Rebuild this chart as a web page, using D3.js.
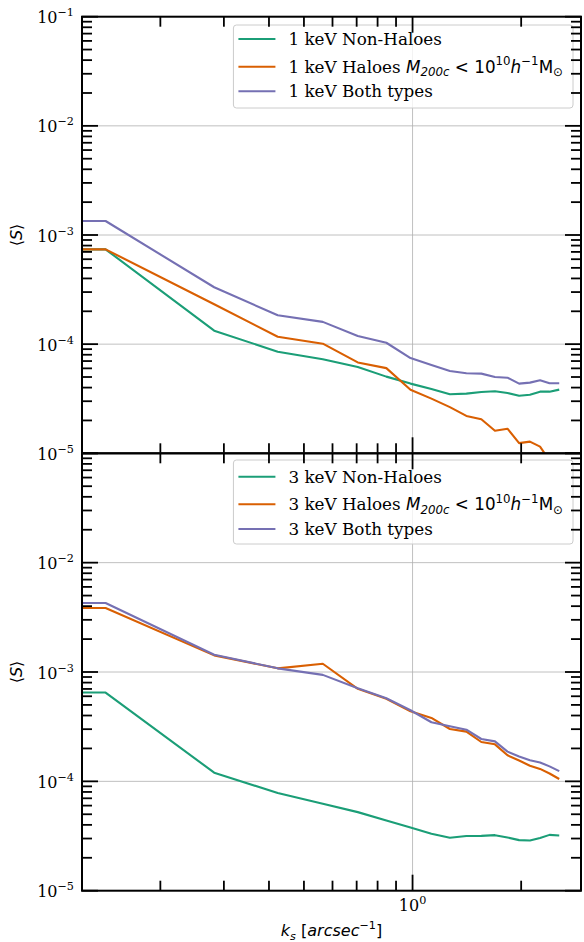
<!DOCTYPE html>
<html><head><meta charset="utf-8">
<script src="https://cdn.jsdelivr.net/npm/d3@7"></script>
<style>body{margin:0;background:#fff}</style>
</head><body><svg id="c" width="584" height="942" xmlns="http://www.w3.org/2000/svg"></svg>
<script>
// ---- data ----
const kValues = [0.1213, 0.141, 0.282, 0.423, 0.564, 0.705, 0.846, 0.987, 1.128, 1.269, 1.41, 1.551, 1.692, 1.833, 1.974, 2.115, 2.256, 2.397, 2.55];

const nonHaloes1 = [7.39e-4, 7.39e-4, 1.33e-4, 8.53e-5, 7.26e-5, 6.18e-5, 5.04e-5, 4.35e-5, 3.88e-5, 3.47e-5, 3.52e-5, 3.65e-5, 3.70e-5, 3.57e-5, 3.37e-5, 3.44e-5, 3.67e-5, 3.67e-5, 3.83e-5];
const haloes1    = [7.39e-4, 7.39e-4, 2.32e-4, 1.17e-4, 1.01e-4, 6.80e-5, 6.03e-5, 3.82e-5, 3.17e-5, 2.65e-5, 2.20e-5, 2.05e-5, 1.61e-5, 1.68e-5, 1.24e-5, 1.28e-5, 1.15e-5, 8.6e-6, 7.2e-6];
const both1      = [1.343e-3, 1.343e-3, 3.32e-4, 1.84e-4, 1.60e-4, 1.19e-4, 1.03e-4, 7.45e-5, 6.44e-5, 5.68e-5, 5.41e-5, 5.37e-5, 5.0e-5, 4.93e-5, 4.35e-5, 4.44e-5, 4.67e-5, 4.38e-5, 4.38e-5];

const nonHaloes3 = [6.49e-4, 6.49e-4, 1.20e-4, 7.82e-5, 6.24e-5, 5.23e-5, 4.39e-5, 3.79e-5, 3.32e-5, 3.05e-5, 3.16e-5, 3.17e-5, 3.22e-5, 3.07e-5, 2.90e-5, 2.88e-5, 3.03e-5, 3.24e-5, 3.20e-5];
const haloes3    = [3.85e-3, 3.85e-3, 1.42e-3, 1.08e-3, 1.19e-3, 7.02e-4, 5.68e-4, 4.37e-4, 3.80e-4, 3.01e-4, 2.85e-4, 2.29e-4, 2.18e-4, 1.73e-4, 1.55e-4, 1.39e-4, 1.30e-4, 1.18e-4, 1.05e-4];
const both3      = [4.27e-3, 4.27e-3, 1.44e-3, 1.08e-3, 9.41e-4, 7.11e-4, 5.75e-4, 4.47e-4, 3.47e-4, 3.19e-4, 2.97e-4, 2.44e-4, 2.32e-4, 1.87e-4, 1.69e-4, 1.56e-4, 1.49e-4, 1.37e-4, 1.24e-4];

const seriesLabels1 = ["1 keV Non-Haloes", "1 keV Haloes ", "1 keV Both types"];
const seriesLabels3 = ["3 keV Non-Haloes", "3 keV Haloes ", "3 keV Both types"];
const colors = ["#1b9e77", "#d95f02", "#7570b3"];
const xDomain = [0.1213, 2.93];
const yDomain = [1e-5, 1e-1];

// ---- layout ----
const svg = d3.select("#c");
const L = 82, R = 581;
const SERIF = "'DejaVu Serif', serif";
const SANS = "'DejaVu Sans', sans-serif";
const FS = 16, SFS = 11.2;
const LFS = 16.8, LSFS = 11.8;

const x = d3.scaleLog().domain(xDomain).range([L, R]);

const panels = [
  {top: 16.7, bottom: 453.3, series: [nonHaloes1, haloes1, both1], labels: seriesLabels1, legTop: 25, rows: [39, 66.7, 91.2], legBottom: 108, showTopLabel: true},
  {top: 453.3, bottom: 890.7, series: [nonHaloes3, haloes3, both3], labels: seriesLabels3, legTop: 460, rows: [476.7, 504.3, 529], legBottom: 544, showTopLabel: false}
];

function rich(textSel, parts) {
  let cur = 0;
  parts.forEach(p => {
    const shift = p.shift || 0;
    textSel.append("tspan")
      .attr("font-family", p.font || SANS)
      .attr("font-size", p.size || FS)
      .attr("font-style", p.italic ? "italic" : "normal")
      .attr("dy", shift - cur)
      .text(p.t);
    cur = shift;
  });
}

const defs = svg.append("defs");

panels.forEach((P, pi) => {
  const y = d3.scaleLog().domain(yDomain).range([P.bottom, P.top]);
  const g = svg.append("g");

  // grid
  const isMajor = v => Math.abs(Math.log10(v) - Math.round(Math.log10(v))) < 1e-9;
  const yMajor = y.ticks().filter(isMajor);
  const xTicks = x.ticks();
  const xMajor = xTicks.filter(isMajor);
  g.selectAll(".gy").data(yMajor).join("line")
    .attr("x1", L).attr("x2", R).attr("y1", d => y(d)).attr("y2", d => y(d))
    .attr("stroke", "#b0b0b0").attr("stroke-width", 0.8);
  g.selectAll(".gx").data(xMajor).join("line")
    .attr("x1", d => x(d)).attr("x2", d => x(d)).attr("y1", P.top).attr("y2", P.bottom)
    .attr("stroke", "#b0b0b0").attr("stroke-width", 0.8);

  // lines
  defs.append("clipPath").attr("id", "clip" + pi).append("rect")
    .attr("x", L).attr("y", P.top).attr("width", R - L).attr("height", P.bottom - P.top);
  const line = d3.line().x((d, i) => x(kValues[i])).y(d => y(d));
  const lg = g.append("g").attr("clip-path", `url(#clip${pi})`);
  P.series.forEach((s, si) => {
    lg.append("path").attr("d", line(s)).attr("fill", "none")
      .attr("stroke", colors[si]).attr("stroke-width", 2.1)
      .attr("stroke-linejoin", "round").attr("stroke-linecap", "butt");
  });

  // legend
  const leg = g.append("g");
  const box = leg.append("rect");
  const texts = [];
  P.labels.forEach((lab, i) => {
    const t = leg.append("text").attr("y", P.rows[i] + 6);
    if (i === 1) {
      rich(t, [
        {t: lab, font: SERIF, size: LFS},
        {t: "M", italic: true, size: LFS},
        {t: "200c", italic: true, size: LSFS, shift: 3.7},
        {t: " < 10", size: LFS},
        {t: "10", size: LSFS, shift: -7.4},
        {t: "h", italic: true, size: LFS},
        {t: "−1", size: LSFS, shift: -7.4},
        {t: "M", size: LFS},
        {t: "⊙", size: LSFS, shift: 3.7}
      ]);
    } else {
      rich(t, [{t: lab, font: SERIF, size: LFS}]);
    }
    texts.push(t);
  });
  const maxW = d3.max(texts, t => t.node().getComputedTextLength());
  const boxRight = 573;
  const textX = boxRight - 10 - maxW;
  texts.forEach(t => t.attr("x", textX));
  const hx1 = textX - 50, hx2 = textX - 13;
  P.labels.forEach((lab, i) => {
    leg.append("line").attr("x1", hx1).attr("x2", hx2)
      .attr("y1", P.rows[i]).attr("y2", P.rows[i])
      .attr("stroke", colors[i]).attr("stroke-width", 2.1);
  });
  box.attr("x", hx1 - 5).attr("y", P.legTop).attr("width", boxRight - (hx1 - 5)).attr("height", P.legBottom - P.legTop)
    .attr("rx", 3).attr("fill", "#fff").attr("fill-opacity", 0.8)
    .attr("stroke", "#cccccc").attr("stroke-width", 1);

  // ticks (inward, all four sides)
  const tg = g.append("g").attr("stroke", "#000").attr("stroke-width", 1.8);
  y.ticks().forEach(v => {
    const len = isMajor(v) ? 16 : 10;
    const yy = y(v);
    tg.append("line").attr("x1", L).attr("x2", L + len).attr("y1", yy).attr("y2", yy);
    tg.append("line").attr("x1", R).attr("x2", R - len).attr("y1", yy).attr("y2", yy);
  });
  xTicks.forEach(v => {
    const len = isMajor(v) ? 16 : 10;
    const xx = x(v);
    tg.append("line").attr("x1", xx).attr("x2", xx).attr("y1", P.bottom).attr("y2", P.bottom - len);
    tg.append("line").attr("x1", xx).attr("x2", xx).attr("y1", P.top).attr("y2", P.top + len);
  });

  // frame
  g.append("rect").attr("x", L).attr("y", P.top).attr("width", R - L).attr("height", P.bottom - P.top)
    .attr("fill", "none").attr("stroke", "#000").attr("stroke-width", 2);

  // y tick labels
  yMajor.forEach(v => {
    if (!P.showTopLabel && Math.abs(y(v) - P.top) < 1) return;
    const e = Math.round(Math.log10(v));
    const t = svg.append("text").attr("x", 74).attr("y", y(v) + 6.5)
      .attr("text-anchor", "end").attr("fill", "#000");
    rich(t, [{t: "10", font: SERIF}, {t: "−" + Math.abs(e), font: SERIF, size: SFS, shift: -7}]);
  });

  // y label
  const cy = (P.top + P.bottom) / 2;
  const yl = svg.append("text").attr("transform", `translate(22,${cy}) rotate(-90)`)
    .attr("text-anchor", "middle");
  rich(yl, [{t: "⟨"}, {t: "S", italic: true}, {t: "⟩"}]);

  // x tick labels (bottom panel only)
  if (pi === 1) {
    xMajor.forEach(v => {
      const t = svg.append("text").attr("x", x(v)).attr("y", 910.5).attr("text-anchor", "middle");
      rich(t, [{t: "10", font: SERIF}, {t: String(Math.round(Math.log10(v))), font: SERIF, size: SFS, shift: -7}]);
    });
    const xl = svg.append("text").attr("x", (L + R) / 2).attr("y", 936).attr("text-anchor", "middle");
    rich(xl, [
      {t: "k", italic: true},
      {t: "s", italic: true, size: SFS, shift: 3.5},
      {t: " ["},
      {t: "arcsec", italic: true},
      {t: "−1", size: SFS, shift: -7},
      {t: "]"}
    ]);
  }
});
</script>
</body></html>
